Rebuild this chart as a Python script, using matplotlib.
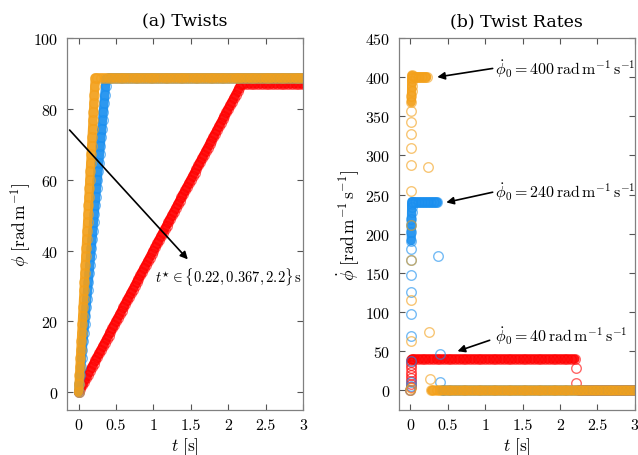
import numpy as np
import matplotlib
matplotlib.use('Agg')
import matplotlib.pyplot as plt

plt.rcParams['mathtext.fontset'] = 'cm'
plt.rcParams['font.family'] = ['cmr10', 'DejaVu Serif']
plt.rcParams['axes.formatter.use_mathtext'] = True

# ---------------- Panel (a): twists phi(t) ----------------
ORANGE_RAMP_T_A = [0.000, 0.006, 0.012, 0.018, 0.024, 0.030, 0.036, 0.042, 0.048, 0.054,
                   0.060, 0.066, 0.072, 0.078, 0.084, 0.090, 0.096, 0.102, 0.108, 0.114,
                   0.120, 0.126, 0.132, 0.138, 0.144, 0.150, 0.156, 0.162, 0.168, 0.174,
                   0.180, 0.186, 0.192, 0.198, 0.204, 0.210, 0.216, 0.222]
ORANGE_RAMP_PHI_A = [0.0, 2.4, 4.8, 7.2, 9.6, 12.0, 14.4, 16.8, 19.2, 21.6,
                     24.0, 26.4, 28.8, 31.2, 33.6, 36.0, 38.4, 40.8, 43.2, 45.6,
                     48.0, 50.4, 52.8, 55.2, 57.6, 60.0, 62.4, 64.8, 67.2, 69.6,
                     72.0, 74.4, 76.8, 79.2, 81.6, 84.0, 86.4, 88.7]
ORANGE_HOLD_T_A = [0.25, 0.30, 0.35, 0.40, 0.45, 0.50, 0.55, 0.60, 0.65, 0.70,
                   0.75, 0.80, 0.85, 0.90, 0.95, 1.00, 1.05, 1.10, 1.15, 1.20,
                   1.25, 1.30, 1.35, 1.40, 1.45, 1.50, 1.55, 1.60, 1.65, 1.70,
                   1.75, 1.80, 1.85, 1.90, 1.95, 2.00, 2.05, 2.10, 2.15, 2.20,
                   2.25, 2.30, 2.35, 2.40, 2.45, 2.50, 2.55, 2.60, 2.65, 2.70,
                   2.75, 2.80, 2.85, 2.90, 2.95, 3.00]
ORANGE_HOLD_PHI_A = 88.7

BLUE_RAMP_T_A = [0.00, 0.01, 0.02, 0.03, 0.04, 0.05, 0.06, 0.07, 0.08, 0.09,
                 0.10, 0.11, 0.12, 0.13, 0.14, 0.15, 0.16, 0.17, 0.18, 0.19,
                 0.20, 0.21, 0.22, 0.23, 0.24, 0.25, 0.26, 0.27, 0.28, 0.29,
                 0.30, 0.31, 0.32, 0.33, 0.34, 0.35, 0.36, 0.367]
BLUE_RAMP_PHI_A = [0.0, 2.4, 4.8, 7.2, 9.6, 12.0, 14.4, 16.8, 19.2, 21.6,
                   24.0, 26.4, 28.8, 31.2, 33.6, 36.0, 38.4, 40.8, 43.2, 45.6,
                   48.0, 50.4, 52.8, 55.2, 57.6, 60.0, 62.4, 64.8, 67.2, 69.6,
                   72.0, 74.4, 76.8, 79.2, 81.6, 84.0, 86.4, 88.4]
BLUE_HOLD_T_A = [0.40, 0.45, 0.50, 0.55, 0.60, 0.65, 0.70,
                 0.75, 0.80, 0.85, 0.90, 0.95, 1.00, 1.05, 1.10, 1.15, 1.20,
                 1.25, 1.30, 1.35, 1.40, 1.45, 1.50, 1.55, 1.60, 1.65, 1.70,
                 1.75, 1.80, 1.85, 1.90, 1.95, 2.00, 2.05, 2.10, 2.15, 2.20,
                 2.25, 2.30, 2.35, 2.40, 2.45, 2.50, 2.55, 2.60, 2.65, 2.70,
                 2.75, 2.80, 2.85, 2.90, 2.95, 3.00]
BLUE_HOLD_PHI_A = 88.7

RED_RAMP_T_A = [0.000, 0.025, 0.050, 0.075, 0.100, 0.125, 0.150, 0.175, 0.200, 0.225,
                0.250, 0.275, 0.300, 0.325, 0.350, 0.375, 0.400, 0.425, 0.450, 0.475,
                0.500, 0.525, 0.550, 0.575, 0.600, 0.625, 0.650, 0.675, 0.700, 0.725,
                0.750, 0.775, 0.800, 0.825, 0.850, 0.875, 0.900, 0.925, 0.950, 0.975,
                1.000, 1.025, 1.050, 1.075, 1.100, 1.125, 1.150, 1.175, 1.200, 1.225,
                1.250, 1.275, 1.300, 1.325, 1.350, 1.375, 1.400, 1.425, 1.450, 1.475,
                1.500, 1.525, 1.550, 1.575, 1.600, 1.625, 1.650, 1.675, 1.700, 1.725,
                1.750, 1.775, 1.800, 1.825, 1.850, 1.875, 1.900, 1.925, 1.950, 1.975,
                2.000, 2.025, 2.050, 2.075, 2.100, 2.125, 2.150, 2.175]
RED_RAMP_PHI_A = [0, 1, 2, 3, 4, 5, 6, 7, 8, 9,
                  10, 11, 12, 13, 14, 15, 16, 17, 18, 19,
                  20, 21, 22, 23, 24, 25, 26, 27, 28, 29,
                  30, 31, 32, 33, 34, 35, 36, 37, 38, 39,
                  40, 41, 42, 43, 44, 45, 46, 47, 48, 49,
                  50, 51, 52, 53, 54, 55, 56, 57, 58, 59,
                  60, 61, 62, 63, 64, 65, 66, 67, 68, 69,
                  70, 71, 72, 73, 74, 75, 76, 77, 78, 79,
                  80, 81, 82, 83, 84, 85, 86, 87]
RED_HOLD_T_A = [2.20, 2.25, 2.30, 2.35, 2.40, 2.45, 2.50, 2.55, 2.60, 2.65,
                2.70, 2.75, 2.80, 2.85, 2.90, 2.95, 3.00]
RED_HOLD_PHI_A = 87.0

# ---------------- Panel (b): twist rates ----------------
# sparse start-up points (t ~ 0), dense plateau, sparse transition, dense zero tail
ORANGE_STACK_T_B = [0.002, 0.003, 0.004, 0.005, 0.006, 0.007, 0.008, 0.009, 0.010, 0.011, 0.012, 0.013]
ORANGE_STACK_B = [0, 2.5, 63, 116, 167, 211, 254, 288, 310, 327, 343, 357]
ORANGE_PLAT_T_B = [0.014, 0.015, 0.016, 0.017, 0.018, 0.019, 0.02, 0.04, 0.06, 0.08,
                   0.10, 0.12, 0.14, 0.16, 0.18, 0.20, 0.22]
ORANGE_PLAT_B = [368, 376, 382, 389, 395, 399, 402, 401, 400, 400,
                 400, 400, 400, 400, 400, 400, 400]
ORANGE_TRANS_T_B = [0.24, 0.245, 0.26]
ORANGE_TRANS_B = [285, 75, 15]
ORANGE_ZERO_T_B = [0.28, 0.30, 0.35, 0.40, 0.45, 0.50, 0.55, 0.60, 0.65, 0.70,
                   0.75, 0.80, 0.85, 0.90, 0.95, 1.00, 1.05, 1.10, 1.15, 1.20,
                   1.25, 1.30, 1.35, 1.40, 1.45, 1.50, 1.55, 1.60, 1.65, 1.70,
                   1.75, 1.80, 1.85, 1.90, 1.95, 2.00, 2.05, 2.10, 2.15, 2.20,
                   2.25, 2.30, 2.35, 2.40, 2.45, 2.50, 2.55, 2.60, 2.65, 2.70,
                   2.75, 2.80, 2.85, 2.90, 2.95, 3.00]
ORANGE_ZERO_B = 0.0

BLUE_STACK_T_B = [0.002, 0.003, 0.004, 0.005, 0.006, 0.007, 0.008, 0.009, 0.010, 0.011]
BLUE_STACK_B = [0, 6, 11, 38, 70, 98, 126, 147, 166, 181]
BLUE_PLAT_T_B = [0.012, 0.013, 0.014, 0.015, 0.016, 0.017, 0.018, 0.02, 0.04, 0.06,
                 0.08, 0.10, 0.12, 0.14, 0.16, 0.18, 0.20, 0.22, 0.24, 0.26,
                 0.28, 0.30, 0.32, 0.34, 0.36]
BLUE_PLAT_B = [191, 202, 211, 219, 228, 234, 238, 241, 241, 240,
               240, 240, 240, 240, 240, 240, 240, 240, 240, 240,
               240, 240, 240, 240, 240]
BLUE_TRANS_T_B = [0.37, 0.40, 0.40]
BLUE_TRANS_B = [171, 46, 11]
BLUE_ZERO_T_B = [0.42, 0.45, 0.50, 0.55, 0.60, 0.65, 0.70,
                 0.75, 0.80, 0.85, 0.90, 0.95, 1.00, 1.05, 1.10, 1.15, 1.20,
                 1.25, 1.30, 1.35, 1.40, 1.45, 1.50, 1.55, 1.60, 1.65, 1.70,
                 1.75, 1.80, 1.85, 1.90, 1.95, 2.00, 2.05, 2.10, 2.15, 2.20,
                 2.25, 2.30, 2.35, 2.40, 2.45, 2.50, 2.55, 2.60, 2.65, 2.70,
                 2.75, 2.80, 2.85, 2.90, 2.95, 3.00]
BLUE_ZERO_B = 0.0

RED_STACK_T_B = [0.002, 0.003, 0.004, 0.005, 0.006, 0.007, 0.008, 0.009, 0.010, 0.011]
RED_STACK_B = [0, 4, 8, 12, 16, 20, 24, 28, 32, 36]
RED_PLAT_T_B = [0.012, 0.02, 0.05, 0.10, 0.15, 0.20, 0.25, 0.30, 0.35, 0.40, 0.45,
                0.50, 0.55, 0.60, 0.65, 0.70, 0.75, 0.80, 0.85, 0.90, 0.95,
                1.00, 1.05, 1.10, 1.15, 1.20, 1.25, 1.30, 1.35, 1.40, 1.45,
                1.50, 1.55, 1.60, 1.65, 1.70, 1.75, 1.80, 1.85, 1.90, 1.95,
                2.00, 2.05, 2.10, 2.15, 2.20]
RED_PLAT_B = [39, 40, 40, 40, 40, 40, 40, 40, 40, 40, 40,
              40, 40, 40, 40, 40, 40, 40, 40, 40, 40,
              40, 40, 40, 40, 40, 40, 40, 40, 40, 40,
              40, 40, 40, 40, 40, 40, 40, 40, 40, 40,
              40, 40, 40, 40, 40]
RED_TRANS_T_B = [2.22, 2.22]
RED_TRANS_B = [29, 9]
RED_ZERO_T_B = [2.25, 2.30, 2.35, 2.40, 2.45, 2.50, 2.55, 2.60, 2.65, 2.70,
                2.75, 2.80, 2.85, 2.90, 2.95, 3.00]
RED_ZERO_B = 0.0

ORANGE = '#F3A01A'
BLUE = '#1A8FEF'
RED = '#FF0000'
MK = dict(marker='o', ls='none', mfc='none', ms=6.9, mew=1.0, alpha=0.6)


def hold(t, level):
    return np.full(len(t), level, dtype=float)


def band(ax, t, y, color):
    # densely sampled stretch: overlapping circles form a solid band
    ax.plot(t, y, '-', color=color, lw=6.6, alpha=0.92,
            solid_capstyle='round', solid_joinstyle='round')
    ax.plot(t, y, mec=color, **MK)


def pts(ax, t, y, color):
    ax.plot(t, y, mec=color, **MK)


fig = plt.figure(figsize=(6.38, 4.56), dpi=100)
axa = fig.add_axes([0.105, 0.0987, 0.370, 0.816])
axb = fig.add_axes([0.625, 0.0987, 0.370, 0.816])

# Panel (a)
band(axa, RED_RAMP_T_A + RED_HOLD_T_A,
     RED_RAMP_PHI_A + list(hold(RED_HOLD_T_A, RED_HOLD_PHI_A)), RED)
band(axa, BLUE_RAMP_T_A + BLUE_HOLD_T_A,
     BLUE_RAMP_PHI_A + list(hold(BLUE_HOLD_T_A, BLUE_HOLD_PHI_A)), BLUE)
band(axa, ORANGE_RAMP_T_A + ORANGE_HOLD_T_A,
     ORANGE_RAMP_PHI_A + list(hold(ORANGE_HOLD_T_A, ORANGE_HOLD_PHI_A)), ORANGE)

# Panel (b)
for (st, sv, pt, pv, tt, tv, zt, zv, c) in [
        (RED_STACK_T_B, RED_STACK_B, RED_PLAT_T_B, RED_PLAT_B,
         RED_TRANS_T_B, RED_TRANS_B, RED_ZERO_T_B, RED_ZERO_B, RED),
        (BLUE_STACK_T_B, BLUE_STACK_B, BLUE_PLAT_T_B, BLUE_PLAT_B,
         BLUE_TRANS_T_B, BLUE_TRANS_B, BLUE_ZERO_T_B, BLUE_ZERO_B, BLUE),
        (ORANGE_STACK_T_B, ORANGE_STACK_B, ORANGE_PLAT_T_B, ORANGE_PLAT_B,
         ORANGE_TRANS_T_B, ORANGE_TRANS_B, ORANGE_ZERO_T_B, ORANGE_ZERO_B, ORANGE)]:
    pts(axb, st, sv, c)
    band(axb, pt, pv, c)
    pts(axb, tt, tv, c)
    band(axb, zt, hold(zt, zv), c)

FS = 11.5
for ax in (axa, axb):
    ax.set_xlim(-0.155, 3.0)
    ax.set_xticks([0, 0.5, 1, 1.5, 2, 2.5, 3])
    ax.set_xticklabels(['0', '0.5', '1', '1.5', '2', '2.5', '3'])
    ax.tick_params(direction='in', top=True, right=True, length=4, width=0.8,
                   color='#555555', labelsize=FS, pad=6)
    for s in ax.spines.values():
        s.set_color('#808080')
        s.set_linewidth(0.9)
    ax.set_xlabel(r'$t\ [\mathrm{s}]$', fontsize=FS + 1, labelpad=2)

axa.set_ylim(-5, 100)
axa.set_yticks([0, 20, 40, 60, 80, 100])
axb.set_ylim(-25, 450)
axb.set_yticks(list(range(0, 451, 50)))

axa.set_ylabel(r'$\phi\ [\mathrm{rad\,m}^{-1}]$', fontsize=FS + 1, labelpad=0)
axb.set_ylabel(r'$\dot{\phi}\ [\mathrm{rad\,m}^{-1}\,\mathrm{s}^{-1}]$', fontsize=FS + 1, labelpad=3)

axa.set_title('(a) Twists', fontfamily='DejaVu Serif', fontsize=12.5, pad=9)
axb.set_title('(b) Twist Rates', fontfamily='DejaVu Serif', fontsize=12.5, pad=9)

ARW = dict(arrowstyle='-|>', color='black', lw=1.2, mutation_scale=11, shrinkA=0, shrinkB=0)

# Annotation panel (a)
axa.annotate('', xy=(1.46, 37.5), xytext=(-0.12, 74.0), arrowprops=ARW)
axa.text(1.02, 32.7, r'$t^{\star} \in \{0.22, 0.367, 2.2\}\,\mathrm{s}$',
         fontsize=10.5, va='center', ha='left')

# Annotations panel (b)
axb.annotate('', xy=(0.36, 400), xytext=(1.10, 411), arrowprops=ARW)
axb.text(1.13, 412, r'$\dot{\phi}_0 = 400\,\mathrm{rad\,m}^{-1}\,\mathrm{s}^{-1}$',
         fontsize=FS, va='center', ha='left')
axb.annotate('', xy=(0.48, 240), xytext=(1.10, 253), arrowprops=ARW)
axb.text(1.13, 254, r'$\dot{\phi}_0 = 240\,\mathrm{rad\,m}^{-1}\,\mathrm{s}^{-1}$',
         fontsize=FS, va='center', ha='left')
axb.annotate('', xy=(0.63, 50), xytext=(1.06, 64), arrowprops=ARW)
axb.text(1.13, 70, r'$\dot{\phi}_0 = 40\,\mathrm{rad\,m}^{-1}\,\mathrm{s}^{-1}$',
         fontsize=FS, va='center', ha='left')

fig.savefig('out.png', dpi=100)
